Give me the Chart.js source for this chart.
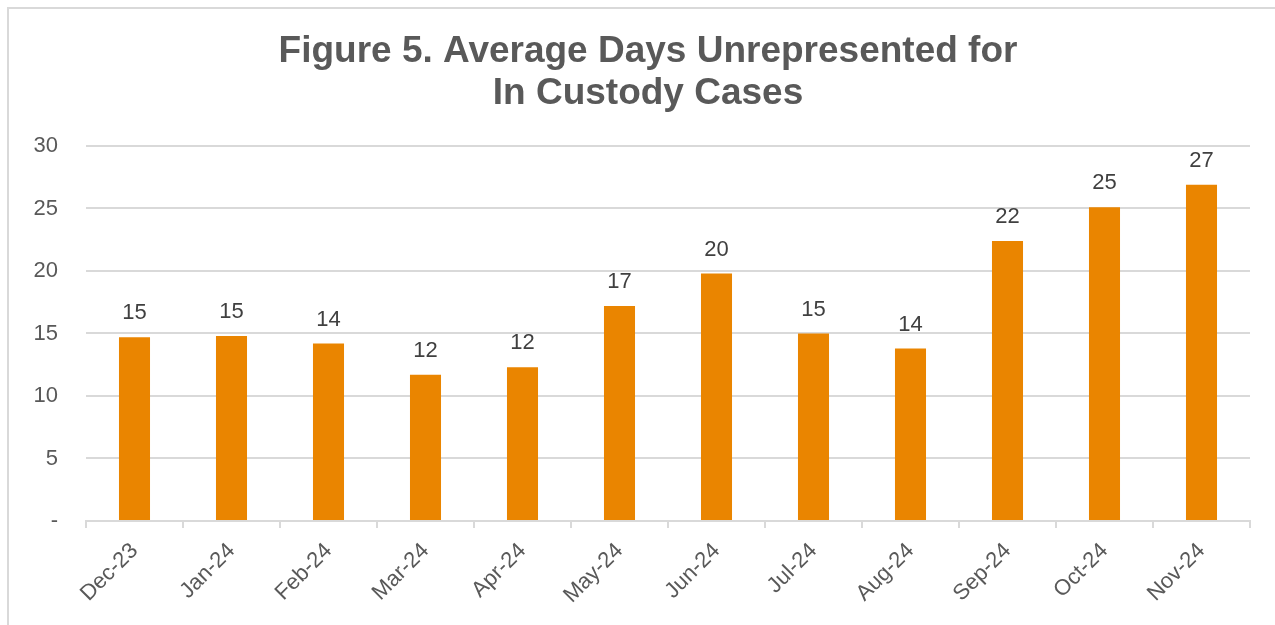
<!DOCTYPE html>
<html>
<head>
<meta charset="utf-8">
<script src="https://cdn.jsdelivr.net/npm/chart.js@4"></script>
<style>
  html, body { margin: 0; padding: 0; background: #fff; overflow: hidden; }
  #wrap { position: relative; width: 1275px; height: 625px; }
  #frame { position: absolute; left: 7px; top: 7px; width: 1400px; height: 800px;
           border: 2px solid #d9d9d9; pointer-events: none; }
</style>
</head>
<body>
<div id="wrap">
  <canvas id="chart" width="1275" height="625"></canvas>
  <div id="frame"></div>
</div>
<script>
// ── Data ────────────────────────────────────────
const MONTHS = ['Dec-23', 'Jan-24', 'Feb-24', 'Mar-24', 'Apr-24', 'May-24',
                'Jun-24', 'Jul-24', 'Aug-24', 'Sep-24', 'Oct-24', 'Nov-24'];
const AVG_DAYS = [14.7, 14.8, 14.2, 11.7, 12.3, 17.2, 19.8, 15.0, 13.8, 22.4, 25.1, 26.9];
const Y_TICKS = [0, 5, 10, 15, 20, 25, 30];
const TITLE = ['Figure 5. Average Days Unrepresented for', 'In Custody Cases'];

const GREY  = '#595959';
const GRID  = '#d9d9d9';
const FONT  = 'Arial, "Liberation Sans", sans-serif';

// ── Value labels above bars ─────────────────────
const barLabels = {
  id: 'barLabels',
  afterDatasetsDraw(chart) {
    const ctx = chart.ctx;
    const meta = chart.getDatasetMeta(0);
    ctx.save();
    ctx.font = '22px ' + FONT;
    ctx.fillStyle = '#404040';
    ctx.textAlign = 'center';
    ctx.textBaseline = 'middle';
    meta.data.forEach((bar, i) => {
      ctx.fillText(String(Math.round(AVG_DAYS[i])), bar.x, bar.y - 24);
    });
    ctx.restore();
  }
};

// title sits a little right of the canvas centre, as in the source
const shiftTitle = {
  id: 'shiftTitle',
  afterLayout(chart) {
    if (chart.titleBlock) chart.titleBlock.left += 46;
  }
};

new Chart(document.getElementById('chart').getContext('2d'), {
  type: 'bar',
  data: {
    labels: MONTHS,
    datasets: [{
      data: AVG_DAYS,
      backgroundColor: '#EA8500',
      borderWidth: 0,
      categoryPercentage: 1,
      barPercentage: 0.32,
    }]
  },
  options: {
    responsive: false, animation: false,
    layout: { padding: { top: 31, right: 25, bottom: 0, left: 0 } },
    plugins: {
      legend: { display: false },
      tooltip: { enabled: false },
      title: {
        display: true, text: TITLE, color: GREY,
        font: { family: FONT, size: 37, weight: 'bold', lineHeight: 1.135 },
        padding: { top: 0, bottom: 31 }
      }
    },
    scales: {
      x: {
        grid: { drawOnChartArea: false, drawTicks: true, tickLength: 7, color: GRID, lineWidth: 2, offset: true },
        border: { color: GRID, width: 2 },
        ticks: { color: GREY, font: { family: FONT, size: 22 }, minRotation: 45, maxRotation: 45, padding: 10 },
        afterFit: s => { s.height = 104; }
      },
      y: {
        min: 0, max: 30,
        afterBuildTicks: s => { s.ticks = Y_TICKS.map(v => ({ value: v })); },
        grid: { color: GRID, lineWidth: 2, drawTicks: false },
        border: { display: false },
        ticks: { color: GREY, font: { family: FONT, size: 22 }, padding: 28,
                 callback: v => v === 0 ? '-' : v },
        afterFit: s => { s.width = 86; }
      }
    }
  },
  plugins: [barLabels, shiftTitle]
});
</script>
</body>
</html>
